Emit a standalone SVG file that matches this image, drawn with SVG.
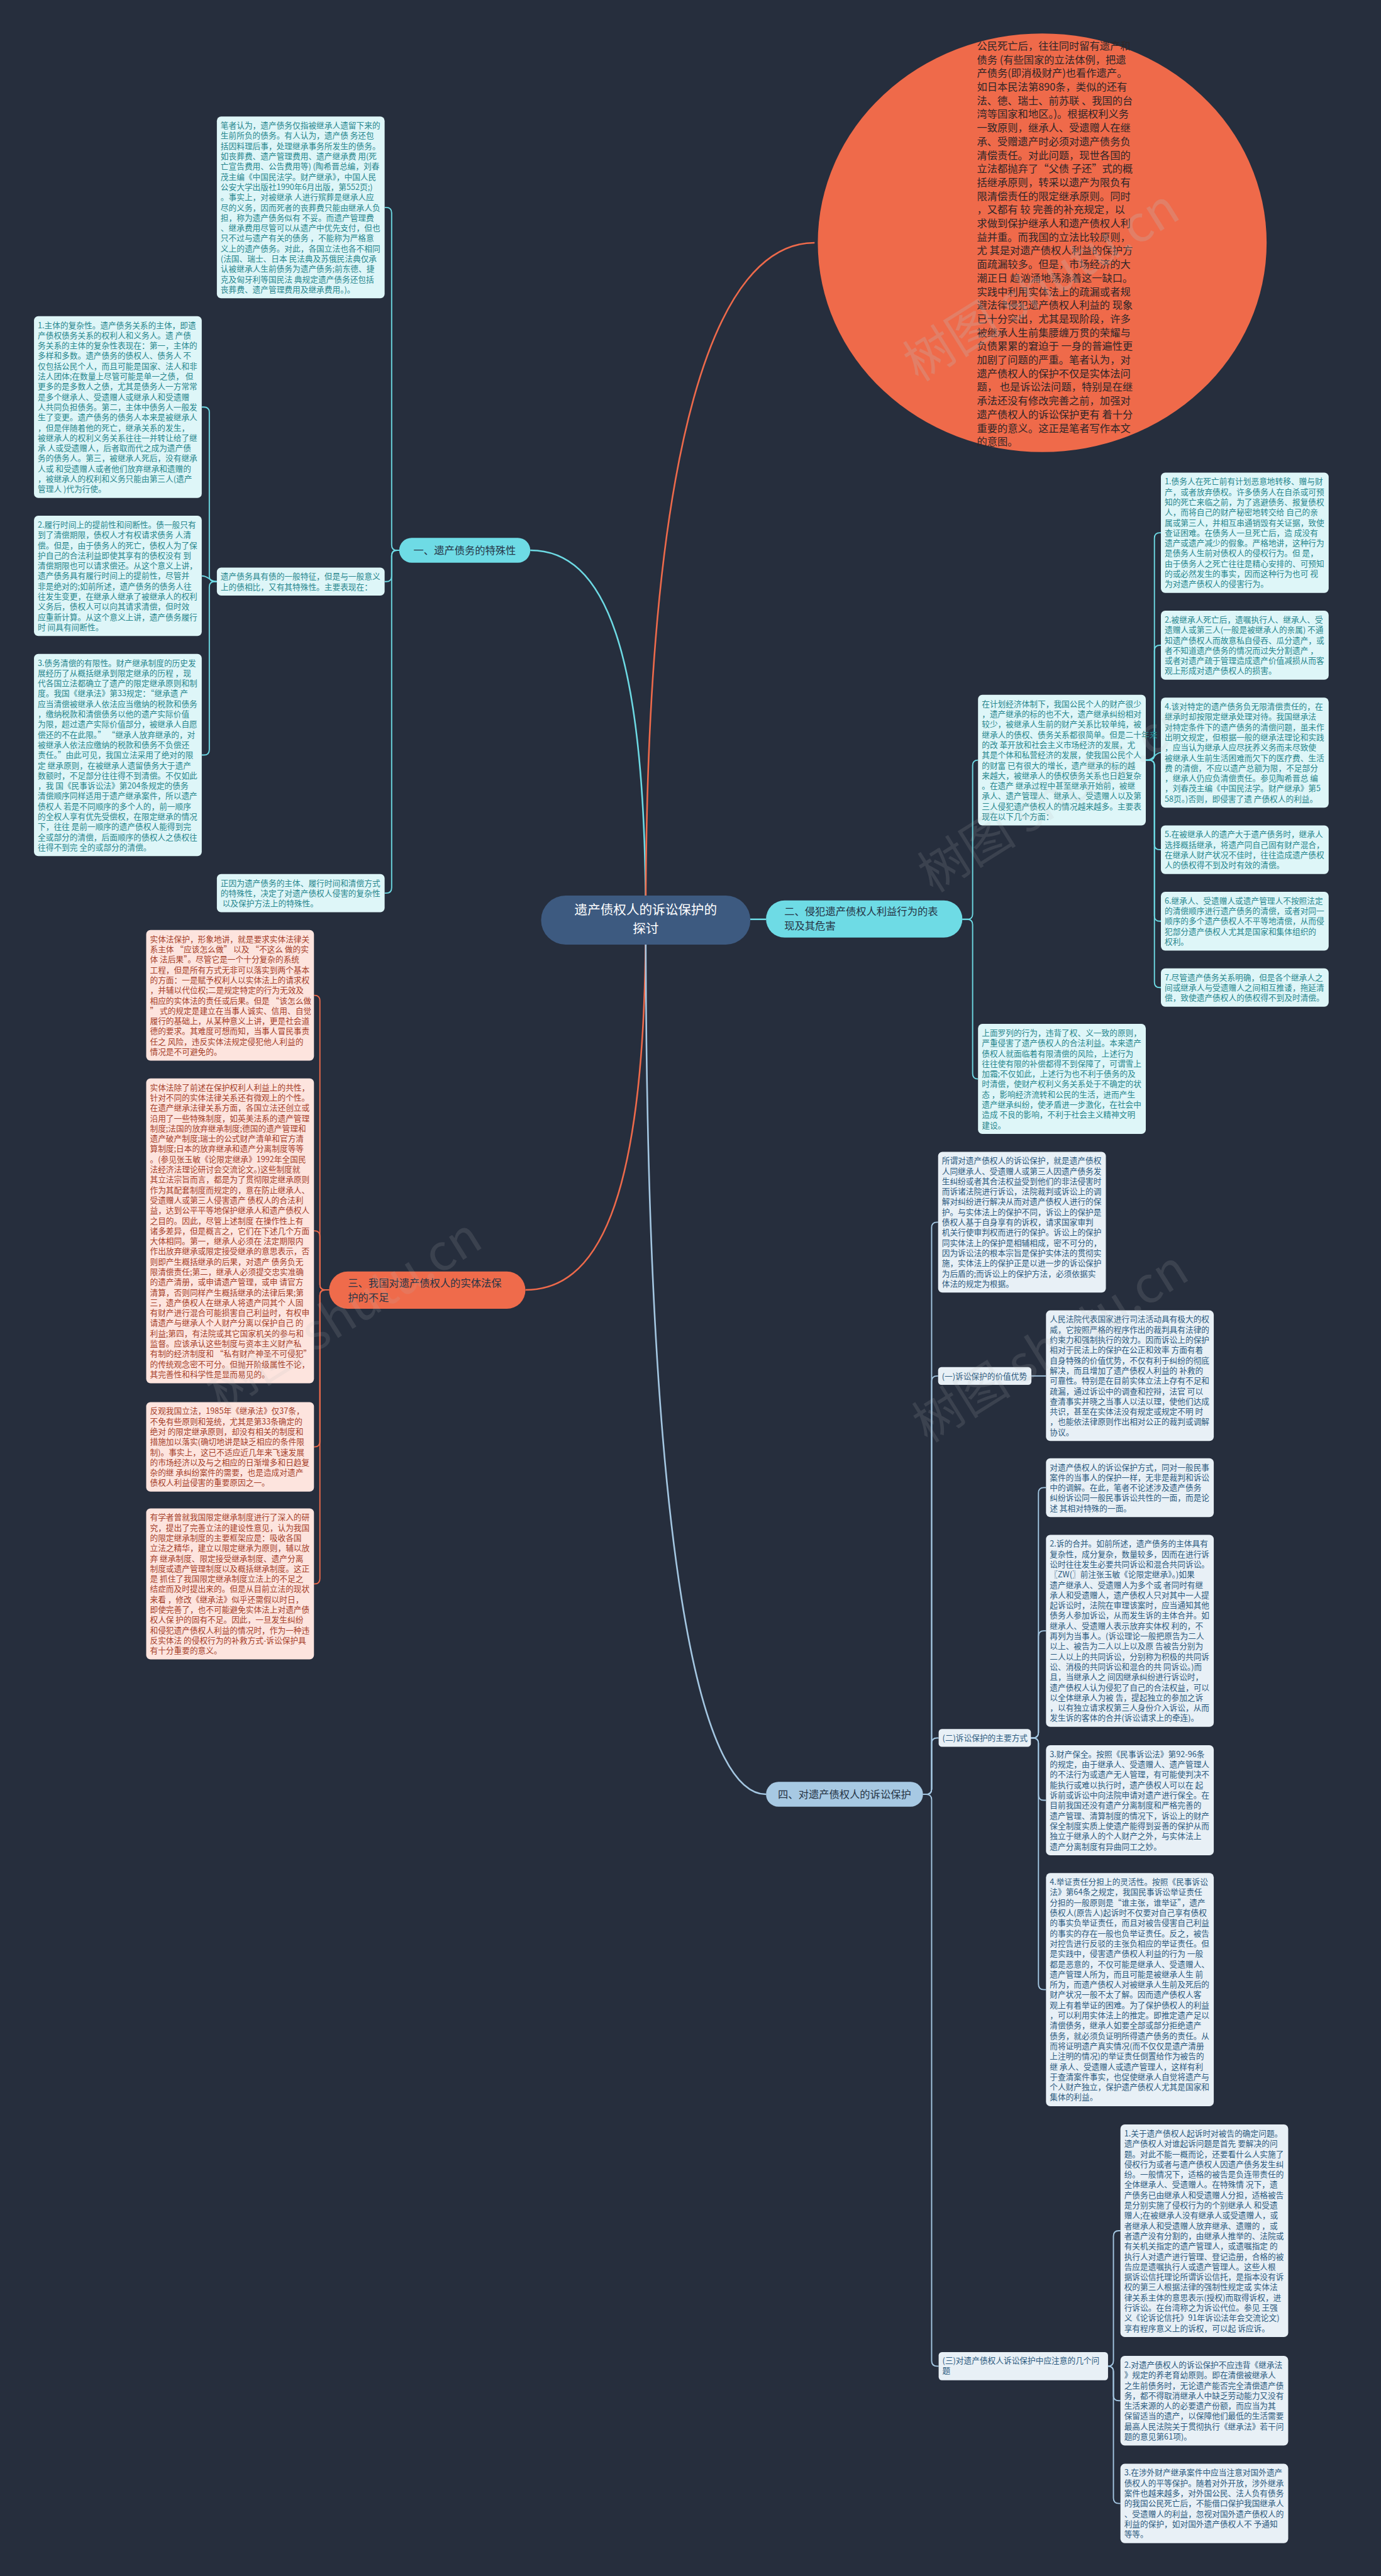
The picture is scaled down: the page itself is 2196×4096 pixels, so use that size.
<svg xmlns="http://www.w3.org/2000/svg" width="2196" height="4096" viewBox="0 0 2196 4096">
<style>
text{font-family:"Noto Sans CJK SC","Noto Sans",sans-serif}
.bx{font-size:14.8px}
.cy rect{fill:#def6f8}.cy text{fill:#28878e}
.or rect{fill:#fde4de}.or text{fill:#a63f2a}
.bl rect{fill:#e8f0f6}.bl text{fill:#2c5b80}
.lc{fill:none;stroke:#6ddae4;stroke-width:2.2}
.lo{fill:none;stroke:#ee6a4b;stroke-width:2.2}
.lb{fill:none;stroke:#a4c7e2;stroke-width:2.2}
.wm{font-size:92px;fill:#bcbcbc;opacity:0.14}
.mn{font-size:19px;fill:#263445}
</style>
<rect x="0" y="0" width="2196" height="4096" fill="#262e3d"/>
<g transform="scale(0.85781)">
<g id="connectors">
<path class="lc" style="stroke-width:3" d="M1197 1705 C1197 1200,1120 1020,983 1020"/>
<path class="lo" style="stroke-width:3" d="M1197 1705 C1197 800,1330 450,1510 450"/>
<path class="lc" style="stroke-width:3" d="M1197 1704 H1420"/>
<path class="lo" style="stroke-width:3" d="M1197 1705 C1197 2250,1100 2391,974 2391"/>
<path class="lb" style="stroke-width:3" d="M1197 1705 C1197 2900,1300 3326,1420 3326"/>
<path class="lc" d="M740 1020 H736 Q726 1020 726 1010 V394.5 Q726 384.5 716 384.5 H713"/>
<path class="lc" d="M740 1020 H736 Q726 1020 726 1030 V1068 Q726 1078 716 1078 H713"/>
<path class="lc" d="M740 1020 H736 Q726 1020 726 1030 V1645.5 Q726 1655.5 716 1655.5 H713"/>
<path class="lc" d="M402 1078 H398 Q388 1078 388 1068 V764.5 Q388 754.5 378 754.5 H374"/>
<path class="lc" d="M402 1078 C388 1078,388 1067.5,374 1067.5"/>
<path class="lc" d="M402 1078 H398 Q388 1078 388 1088 V1389.5 Q388 1399.5 378 1399.5 H374"/>
<path class="lc" d="M1784 1704 H1793 Q1803 1704 1803 1694 V1419 Q1803 1409 1813 1409"/>
<path class="lc" d="M1784 1704 H1793 Q1803 1704 1803 1714 V1990 Q1803 2000 1813 2000"/>
<path class="lc" d="M2124 1409 H2130 Q2140 1409 2140 1399 V997.5 Q2140 987.5 2150 987.5 H2152"/>
<path class="lc" d="M2124 1409 H2130 Q2140 1409 2140 1399 V1206 Q2140 1196 2150 1196 H2152"/>
<path class="lc" d="M2124 1409 C2140 1409,2140 1395,2152 1395"/>
<path class="lc" d="M2124 1409 H2130 Q2140 1409 2140 1419 V1565 Q2140 1575 2150 1575 H2152"/>
<path class="lc" d="M2124 1409 H2130 Q2140 1409 2140 1419 V1697.5 Q2140 1707.5 2150 1707.5 H2152"/>
<path class="lc" d="M2124 1409 H2130 Q2140 1409 2140 1419 V1820.5 Q2140 1830.5 2150 1830.5 H2152"/>
<path class="lo" d="M610 2391 H603 Q593 2391 593 2381 V1855 Q593 1845 583 1845 H582"/>
<path class="lo" d="M610 2391 H603 Q593 2391 593 2381 V2291.5 Q593 2281.5 583 2281.5 H582"/>
<path class="lo" d="M610 2391 H603 Q593 2391 593 2401 V2672 Q593 2682 583 2682 H582"/>
<path class="lo" d="M610 2391 H603 Q593 2391 593 2401 V2926 Q593 2936 583 2936 H582"/>
<path class="lb" d="M1711 3326 H1717 Q1727 3326 1727 3316 V2275.5 Q1727 2265.5 1737 2265.5 H1739"/>
<path class="lb" d="M1711 3326 H1717 Q1727 3326 1727 3316 V2560.5 Q1727 2550.5 1737 2550.5 H1739"/>
<path class="lb" d="M1711 3326 H1717 Q1727 3326 1727 3316 V3231.5 Q1727 3221.5 1737 3221.5 H1740"/>
<path class="lb" d="M1711 3326 H1717 Q1727 3326 1727 3336 V4376 Q1727 4386 1737 4386 H1740"/>
<path class="lb" d="M1912 2550.5 H1939"/>
<path class="lb" d="M1911 3221.5 H1915 Q1925 3221.5 1925 3211.5 V2767.5 Q1925 2757.5 1935 2757.5 H1939"/>
<path class="lb" d="M1911 3221.5 H1915 Q1925 3221.5 1925 3211.5 V3033 Q1925 3023 1935 3023 H1939"/>
<path class="lb" d="M1911 3221.5 H1915 Q1925 3221.5 1925 3231.5 V3327 Q1925 3337 1935 3337 H1939"/>
<path class="lb" d="M1911 3221.5 H1915 Q1925 3221.5 1925 3231.5 V3678 Q1925 3688 1935 3688 H1939"/>
<path class="lb" d="M2054 4386 Q2064 4386 2064 4376 V4145 Q2064 4135 2074 4135 H2077"/>
<path class="lb" d="M2054 4386 Q2064 4386 2064 4396 V4440 Q2064 4450 2074 4450 H2077"/>
<path class="lb" d="M2054 4386 Q2064 4386 2064 4396 V4630.5 Q2064 4640.5 2074 4640.5 H2077"/>
</g>

<g id="intro-circle">
<ellipse cx="1932" cy="450" rx="416" ry="388" fill="#ef6a4a"/>
<text x="1811" y="92" style="font-size:19px;fill:#2e2628">
<tspan x="1811" dy="0">公民死亡后，往往同时留有遗产和</tspan>
<tspan x="1811" dy="25.3">债务 (有些国家的立法体例，把遗</tspan>
<tspan x="1811" dy="25.3">产债务(即消极财产)也看作遗产。</tspan>
<tspan x="1811" dy="25.3">如日本民法第890条，类似的还有</tspan>
<tspan x="1811" dy="25.3">法、德、瑞士、前苏联 、我国的台</tspan>
<tspan x="1811" dy="25.3">湾等国家和地区。)。根据权利义务</tspan>
<tspan x="1811" dy="25.3">一致原则，继承人、受遗赠人在继</tspan>
<tspan x="1811" dy="25.3">承、受赠遗产时必须对遗产债务负</tspan>
<tspan x="1811" dy="25.3">清偿责任。对此问题，现世各国的</tspan>
<tspan x="1811" dy="25.3">立法都抛弃了“父债 子还”式的概</tspan>
<tspan x="1811" dy="25.3">括继承原则，转采以遗产为限负有</tspan>
<tspan x="1811" dy="25.3">限清偿责任的限定继承原则。同时</tspan>
<tspan x="1811" dy="25.3">，又都有 较 完善的补充规定，以</tspan>
<tspan x="1811" dy="25.3">求做到保护继承人和遗产债权人利</tspan>
<tspan x="1811" dy="25.3">益并重。而我国的立法比较原则，</tspan>
<tspan x="1811" dy="25.3">尤 其是对遗产债权人利益的保护方</tspan>
<tspan x="1811" dy="25.3">面疏漏较多。但是，市场经济的大</tspan>
<tspan x="1811" dy="25.3">潮正日 趋汹涌地荡涤着这一缺口。</tspan>
<tspan x="1811" dy="25.3">实践中利用实体法上的疏漏或者规</tspan>
<tspan x="1811" dy="25.3">避法律侵犯遗产债权人利益的 现象</tspan>
<tspan x="1811" dy="25.3">已十分突出，尤其是现阶段，许多</tspan>
<tspan x="1811" dy="25.3">被继承人生前集腰缠万贯的荣耀与</tspan>
<tspan x="1811" dy="25.3">负债累累的窘迫于 一身的普遍性更</tspan>
<tspan x="1811" dy="25.3">加剧了问题的严重。笔者认为，对</tspan>
<tspan x="1811" dy="25.3">遗产债权人的保护不仅是实体法问</tspan>
<tspan x="1811" dy="25.3">题， 也是诉讼法问题，特别是在继</tspan>
<tspan x="1811" dy="25.3">承法还没有修改完善之前，加强对</tspan>
<tspan x="1811" dy="25.3">遗产债权人的诉讼保护更有 着十分</tspan>
<tspan x="1811" dy="25.3">重要的意义。这正是笔者写作本文</tspan>
<tspan x="1811" dy="25.3">的意图。</tspan>
</text>
</g>

<g id="central">
<rect x="1003" y="1660" width="388" height="91" rx="45.5" fill="#3d5a80"/>
<text x="1197" y="1695" text-anchor="middle" style="font-size:24px;fill:#ffffff"><tspan x="1197" dy="0">遗产债权人的诉讼保护的</tspan><tspan x="1197" dy="35">探讨</tspan></text>
</g>

<g id="n1">
<rect x="740" y="997" width="243" height="46" rx="23" fill="#6edbe5"/>
<text class="mn" x="861.5" y="1027" text-anchor="middle">一、遗产债务的特殊性</text>
</g>
<g id="n2">
<rect x="1420" y="1669" width="364" height="69" rx="34.5" fill="#6edbe5"/>
<text class="mn" x="1454" y="1696"><tspan x="1454" dy="0">二、侵犯遗产债权人利益行为的表</tspan><tspan x="1454" dy="27">现及其危害</tspan></text>
</g>
<g id="n3">
<rect x="610" y="2357" width="364" height="69" rx="34.5" fill="#ef6b4b"/>
<text class="mn" x="645" y="2385"><tspan x="645" dy="0">三、我国对遗产债权人的实体法保</tspan><tspan x="645" dy="27">护的不足</tspan></text>
</g>
<g id="n4">
<rect x="1420" y="3303" width="291" height="46" rx="23" fill="#a7c9e3"/>
<text class="mn" x="1565.5" y="3333" text-anchor="middle">四、对遗产债权人的诉讼保护</text>
</g>

<g id="n1-def" class="cy bx">
<rect x="402" y="216" width="311" height="337" rx="8"/>
<text x="409" y="238">
<tspan x="409" dy="0">笔者认为，遗产债务仅指被继承人遗留下来的</tspan>
<tspan x="409" dy="19">生前所负的债务。有人认为，遗产债 务还包</tspan>
<tspan x="409" dy="19">括因料理后事，处理继承事务所发生的债务。</tspan>
<tspan x="409" dy="19">如丧葬费、遗产管理费用、遗产继承费 用(死</tspan>
<tspan x="409" dy="19">亡宣告费用、公告费用等) (陶希晋总编，刘春</tspan>
<tspan x="409" dy="19">茂主编《中国民法学。财产继承》，中国人民</tspan>
<tspan x="409" dy="19">公安大学出版社1990年6月出版，第552页;)</tspan>
<tspan x="409" dy="19">。事实上，对被继承 人进行殡葬是继承人应</tspan>
<tspan x="409" dy="19">尽的义务，因而死者的丧葬费只能由继承人负</tspan>
<tspan x="409" dy="19">担，称为遗产债务似有 不妥。而遗产管理费</tspan>
<tspan x="409" dy="19">、继承费用尽管可以从遗产中优先支付，但也</tspan>
<tspan x="409" dy="19">只不过与遗产有关的债务 ，不能称为严格意</tspan>
<tspan x="409" dy="19">义上的遗产债务。对此，各国立法也各不相同</tspan>
<tspan x="409" dy="19"> (法国、瑞士、日本 民法典及苏俄民法典仅承</tspan>
<tspan x="409" dy="19">认被继承人生前债务为遗产债务;前东德、捷</tspan>
<tspan x="409" dy="19">克及匈牙利等国民法 典规定遗产债务还包括</tspan>
<tspan x="409" dy="19">丧葬费、遗产管理费用及继承费用。)。</tspan>
</text>
</g>

<g id="n1-feat" class="cy bx">
<rect x="402" y="1052" width="311" height="52" rx="8"/>
<text x="409" y="1074"><tspan x="409" dy="0">遗产债务具有债的一般特征，但是与一般意义</tspan><tspan x="409" dy="19">上的债相比，又有其特殊性。主要表现在：</tspan></text>
</g>

<g id="n1-sum" class="cy bx">
<rect x="402" y="1620" width="311" height="71" rx="8"/>
<text x="409" y="1642"><tspan x="409" dy="0">正因为遗产债务的主体、履行时间和清偿方式</tspan><tspan x="409" dy="19">的特殊性，决定了对遗产债权人侵害的复杂性</tspan><tspan x="409" dy="19"> 以及保护方法上的特殊性。</tspan></text>
</g>

<g id="n1-f1" class="cy bx">
<rect x="63" y="586" width="311" height="337" rx="8"/>
<text x="70" y="608">
<tspan x="70" dy="0">1.主体的复杂性。遗产债务关系的主体，即遗</tspan>
<tspan x="70" dy="19">产债权债务关系的权利人和义务人。遗 产债</tspan>
<tspan x="70" dy="19">务关系的主体的复杂性表现在：第一，主体的</tspan>
<tspan x="70" dy="19">多样和多数。遗产债务的债权人、债务人 不</tspan>
<tspan x="70" dy="19">仅包括公民个人，而且可能是国家、法人和非</tspan>
<tspan x="70" dy="19">法人团体;在数量上尽管可能是单一之债， 但</tspan>
<tspan x="70" dy="19">更多的是多数人之债，尤其是债务人一方常常</tspan>
<tspan x="70" dy="19">是多个继承人、受遗赠人或继承人和受遗赠</tspan>
<tspan x="70" dy="19">人共同负担债务。第二，主体中债务人一般发</tspan>
<tspan x="70" dy="19">生了变更。遗产债务的债务人本来是被继承人</tspan>
<tspan x="70" dy="19">，但是伴随着他的死亡，继承关系的发生，</tspan>
<tspan x="70" dy="19">被继承人的权利义务关系往往一并转让给了继</tspan>
<tspan x="70" dy="19">承 人或受遗赠人，后者取而代之成为遗产债</tspan>
<tspan x="70" dy="19">务的债务人。第三，被继承人死后，没有继承</tspan>
<tspan x="70" dy="19">人或 和受遗赠人或者他们放弃继承和遗赠的</tspan>
<tspan x="70" dy="19">，被继承人的权利和义务只能由第三人(遗产</tspan>
<tspan x="70" dy="19">管理人 )代为行使。</tspan>
</text>
</g>

<g id="n1-f2" class="cy bx">
<rect x="63" y="956" width="311" height="223" rx="8"/>
<text x="70" y="978">
<tspan x="70" dy="0">2.履行时间上的提前性和间断性。债一般只有</tspan>
<tspan x="70" dy="19">到了清偿期限，债权人才有权请求债务 人清</tspan>
<tspan x="70" dy="19">偿。但是，由于债务人的死亡，债权人为了保</tspan>
<tspan x="70" dy="19">护自己的合法利益即使其享有的债权没有 到</tspan>
<tspan x="70" dy="19">清偿期限也可以请求偿还。从这个意义上讲，</tspan>
<tspan x="70" dy="19">遗产债务具有履行时间上的提前性，尽管并</tspan>
<tspan x="70" dy="19">非是绝对的;如前所述，遗产债务的债务人往</tspan>
<tspan x="70" dy="19">往发生变更，在继承人继承了被继承人的权利</tspan>
<tspan x="70" dy="19"> 义务后，债权人可以向其请求清偿，但时效</tspan>
<tspan x="70" dy="19">应重新计算。从这个意义上讲，遗产债务履行</tspan>
<tspan x="70" dy="19">时 间具有间断性。</tspan>
</text>
</g>

<g id="n1-f3" class="cy bx">
<rect x="63" y="1212" width="311" height="375" rx="8"/>
<text x="70" y="1234">
<tspan x="70" dy="0">3.债务清偿的有限性。财产继承制度的历史发</tspan>
<tspan x="70" dy="19">展经历了从概括继承到限定继承的历程 ，现</tspan>
<tspan x="70" dy="19">代各国立法都确立了遗产的限定继承原则和制</tspan>
<tspan x="70" dy="19">度。我国《继承法》第33规定：“继承遗 产</tspan>
<tspan x="70" dy="19">应当清偿被继承人依法应当缴纳的税款和债务</tspan>
<tspan x="70" dy="19">，缴纳税款和清偿债务以他的遗产实际价值</tspan>
<tspan x="70" dy="19">为限，超过遗产实际价值部分，被继承人自愿</tspan>
<tspan x="70" dy="19">偿还的不在此限。” “继承人放弃继承的，对</tspan>
<tspan x="70" dy="19"> 被继承人依法应缴纳的税款和债务不负偿还</tspan>
<tspan x="70" dy="19">责任。”由此可见，我国立法采用了绝对的限</tspan>
<tspan x="70" dy="19">定 继承原则，在被继承人遗留债务大于遗产</tspan>
<tspan x="70" dy="19">数额时，不足部分往往得不到清偿。不仅如此</tspan>
<tspan x="70" dy="19">，我 国《民事诉讼法》第204条规定的债务</tspan>
<tspan x="70" dy="19">清偿顺序同样适用于遗产继承案件，所以遗产</tspan>
<tspan x="70" dy="19">债权人 若是不同顺序的多个人的，前一顺序</tspan>
<tspan x="70" dy="19">的全权人享有优先受偿权，在限定继承的情况</tspan>
<tspan x="70" dy="19">下，往往 是前一顺序的遗产债权人能得到完</tspan>
<tspan x="70" dy="19">全或部分的清偿，后面顺序的债权人之债权往</tspan>
<tspan x="70" dy="19">往得不到完 全的或部分的清偿。</tspan>
</text>
</g>

<g id="n2-intro" class="cy bx">
<rect x="1813" y="1288" width="311" height="242" rx="8"/>
<text x="1820" y="1310">
<tspan x="1820" dy="0">在计划经济体制下，我国公民个人的财产很少</tspan>
<tspan x="1820" dy="19">，遗产继承的标的也不大，遗产继承纠纷相对</tspan>
<tspan x="1820" dy="19">较少，被继承人生前的财产关系比较单纯，被</tspan>
<tspan x="1820" dy="19">继承人的债权、债务关系都很简单。但是二十年来</tspan>
<tspan x="1820" dy="19">的改 革开放和社会主义市场经济的发展，尤</tspan>
<tspan x="1820" dy="19">其是个体和私营经济的发展，使我国公民个人</tspan>
<tspan x="1820" dy="19">的财富 已有很大的增长，遗产继承的标的越</tspan>
<tspan x="1820" dy="19">来越大，被继承人的债权债务关系也日趋复杂</tspan>
<tspan x="1820" dy="19">。在遗产 继承过程中甚至继承开始前，被继</tspan>
<tspan x="1820" dy="19">承人、遗产管理人、继承人、受遗赠人以及第</tspan>
<tspan x="1820" dy="19">三人侵犯遗产债权人的情况越来越多。主要表</tspan>
<tspan x="1820" dy="19">现在以下几个方面：</tspan>
</text>
</g>

<g id="n2-harm" class="cy bx">
<rect x="1813" y="1898" width="311" height="204" rx="8"/>
<text x="1820" y="1920">
<tspan x="1820" dy="0">上面罗列的行为，违背了权、义一致的原则，</tspan>
<tspan x="1820" dy="19">严重侵害了遗产债权人的合法利益。本来遗产</tspan>
<tspan x="1820" dy="19"> 债权人就面临着有限清偿的风险，上述行为</tspan>
<tspan x="1820" dy="19">往往使有限的补偿都得不到保障了，可谓雪上</tspan>
<tspan x="1820" dy="19">加霜;不仅如此，上述行为也不利于债务的及</tspan>
<tspan x="1820" dy="19">时清偿，使财产权利义务关系处于不确定的状</tspan>
<tspan x="1820" dy="19">态 ，影响经济流转和公民的生活，进而产生</tspan>
<tspan x="1820" dy="19">遗产继承纠纷，使矛盾进一步激化，在社会中</tspan>
<tspan x="1820" dy="19">造成 不良的影响，不利于社会主义精神文明</tspan>
<tspan x="1820" dy="19">建设。</tspan>
</text>
</g>

<g id="n2-i1" class="cy bx">
<rect x="2152" y="876" width="311" height="223" rx="8"/>
<text x="2159" y="898">
<tspan x="2159" dy="0">1.债务人在死亡前有计划恶意地转移、赠与财</tspan>
<tspan x="2159" dy="19">产，或者放弃债权。许多债务人在自杀或可预</tspan>
<tspan x="2159" dy="19">知的死亡来临之前，为了逃避债务、报复债权</tspan>
<tspan x="2159" dy="19">人，而将自己的财产秘密地转交给 自己的亲</tspan>
<tspan x="2159" dy="19">属或第三人，并相互串通销毁有关证据，致使</tspan>
<tspan x="2159" dy="19">查证困难。在债务人一旦死亡后，造 成没有</tspan>
<tspan x="2159" dy="19">遗产或遗产减少的假象。严格地讲，这种行为</tspan>
<tspan x="2159" dy="19">是债务人生前对债权人的侵权行为。但 是，</tspan>
<tspan x="2159" dy="19">由于债务人之死亡往往是精心安排的、可预知</tspan>
<tspan x="2159" dy="19">的或必然发生的事实，因而这种行为也可 视</tspan>
<tspan x="2159" dy="19">为对遗产债权人的侵害行为。</tspan>
</text>
</g>

<g id="n2-i2" class="cy bx">
<rect x="2152" y="1132" width="311" height="128" rx="8"/>
<text x="2159" y="1154">
<tspan x="2159" dy="0">2.被继承人死亡后，遗嘱执行人、继承人、受</tspan>
<tspan x="2159" dy="19">遗赠人或第三人(一般是被继承人的亲属) 不通</tspan>
<tspan x="2159" dy="19">知遗产债权人而故意私自侵吞、瓜分遗产，或</tspan>
<tspan x="2159" dy="19">者不知道遗产债务的情况而过失分割遗产 ，</tspan>
<tspan x="2159" dy="19">或者对遗产疏于管理造成遗产价值减损从而客</tspan>
<tspan x="2159" dy="19">观上形成对遗产债权人的损害。</tspan>
</text>
</g>

<g id="n2-i4" class="cy bx">
<rect x="2152" y="1293" width="311" height="204" rx="8"/>
<text x="2159" y="1315">
<tspan x="2159" dy="0">4.该对特定的遗产债务负无限清偿责任的，在</tspan>
<tspan x="2159" dy="19">继承时却按限定继承处理对待。我国继承法</tspan>
<tspan x="2159" dy="19">对特定条件下的遗产债务的清偿问题，虽未作</tspan>
<tspan x="2159" dy="19">出明文规定，但根据一般的继承法理论和实践</tspan>
<tspan x="2159" dy="19">，应当认为继承人应尽抚养义务而未尽致使</tspan>
<tspan x="2159" dy="19">被继承人生前生活困难而欠下的医疗费、生活</tspan>
<tspan x="2159" dy="19">费 的清偿，不应以遗产总额为限，不足部分</tspan>
<tspan x="2159" dy="19">，继承人仍应负清偿责任。参见陶希晋总 编</tspan>
<tspan x="2159" dy="19">，刘春茂主编《中国民法学。财产继承》第5</tspan>
<tspan x="2159" dy="19">58页。)否则，即侵害了遗 产债权人的利益。</tspan>
</text>
</g>

<g id="n2-i5" class="cy bx">
<rect x="2152" y="1530" width="311" height="90" rx="8"/>
<text x="2159" y="1552">
<tspan x="2159" dy="0">5.在被继承人的遗产大于遗产债务时，继承人</tspan>
<tspan x="2159" dy="19">选择概括继承，将遗产同自己固有财产混合，</tspan>
<tspan x="2159" dy="19">在继承人财产状况不佳时，往往造成遗产债权</tspan>
<tspan x="2159" dy="19">人的债权得不到及时有效的清偿。</tspan>
</text>
</g>

<g id="n2-i6" class="cy bx">
<rect x="2152" y="1653" width="311" height="109" rx="8"/>
<text x="2159" y="1675">
<tspan x="2159" dy="0">6.继承人、受遗赠人或遗产管理人不按照法定</tspan>
<tspan x="2159" dy="19">的清偿顺序进行遗产债务的清偿，或者对同一</tspan>
<tspan x="2159" dy="19">顺序的多个遗产债权人不平等地清偿，从而侵</tspan>
<tspan x="2159" dy="19">犯部分遗产债权人尤其是国家和集体组织的</tspan>
<tspan x="2159" dy="19">权利。</tspan>
</text>
</g>

<g id="n2-i7" class="cy bx">
<rect x="2152" y="1795" width="311" height="71" rx="8"/>
<text x="2159" y="1817">
<tspan x="2159" dy="0">7.尽管遗产债务关系明确，但是各个继承人之</tspan>
<tspan x="2159" dy="19">间或继承人与受遗赠人之间相互推诿，拖延清</tspan>
<tspan x="2159" dy="19">偿，致使遗产债权人的债权得不到及时清偿。</tspan>
</text>
</g>

<g id="n3-a" class="or bx">
<rect x="271" y="1724" width="311" height="242" rx="8"/>
<text x="278" y="1746">
<tspan x="278" dy="0">实体法保护，形象地讲，就是要求实体法律关</tspan>
<tspan x="278" dy="19">系主体 “应该怎么做” 以及 “不这么 做的实</tspan>
<tspan x="278" dy="19">体 法后果”。尽管它是一个十分复杂的系统</tspan>
<tspan x="278" dy="19">工程，但是所有方式无非可以落实到两个基本</tspan>
<tspan x="278" dy="19">的方面：一是赋予权利人以实体法上的请求权</tspan>
<tspan x="278" dy="19">，并辅以代位权;二是规定特定的行为无效及</tspan>
<tspan x="278" dy="19">相应的实体法的责任或后果。但是 “该怎么做</tspan>
<tspan x="278" dy="19">” 式的规定是建立在当事人诚实、信用、自觉</tspan>
<tspan x="278" dy="19">履行的基础上，从某种意义上讲，更是社会道</tspan>
<tspan x="278" dy="19">德的要求。其难度可想而知，当事人冒民事责</tspan>
<tspan x="278" dy="19">任之 风险，违反实体法规定侵犯他人利益的</tspan>
<tspan x="278" dy="19">情况是不可避免的。</tspan>
</text>
</g>

<g id="n3-b" class="or bx">
<rect x="271" y="1999" width="311" height="565" rx="8"/>
<text x="278" y="2021">
<tspan x="278" dy="0">实体法除了前述在保护权利人利益上的共性，</tspan>
<tspan x="278" dy="19">针对不同的实体法律关系还有微观上的个性。</tspan>
<tspan x="278" dy="19">在遗产继承法律关系方面，各国立法还创立或</tspan>
<tspan x="278" dy="19">沿用了一些特殊制度，如英美法系的遗产管理</tspan>
<tspan x="278" dy="19">制度;法国的放弃继承制度;德国的遗产管理和</tspan>
<tspan x="278" dy="19">遗产破产制度;瑞士的公式财产清单和官方清</tspan>
<tspan x="278" dy="19">算制度;日本的放弃继承和遗产分离制度等等</tspan>
<tspan x="278" dy="19">。(参见张玉敏《论限定继承》1992年全国民</tspan>
<tspan x="278" dy="19">法经济法理论研讨会交流论文。)这些制度就</tspan>
<tspan x="278" dy="19">其立法宗旨而言，都是为了贯彻限定继承原则</tspan>
<tspan x="278" dy="19">作为其配套制度而规定的，意在防止继承人、</tspan>
<tspan x="278" dy="19">受遗赠人或第三人侵害遗产 债权人的合法利</tspan>
<tspan x="278" dy="19">益，达到公平平等地保护继承人和遗产债权人</tspan>
<tspan x="278" dy="19">之目的。因此，尽管上述制度 在操作性上有</tspan>
<tspan x="278" dy="19">诸多差异，但是概言之，它们在下述几个方面</tspan>
<tspan x="278" dy="19">大体相同。第一，继承人必须在 法定期限内</tspan>
<tspan x="278" dy="19">作出放弃继承或限定接受继承的意思表示，否</tspan>
<tspan x="278" dy="19">则即产生概括继承的后果，对遗产 债务负无</tspan>
<tspan x="278" dy="19">限清偿责任;第二，继承人必须提交忠实准确</tspan>
<tspan x="278" dy="19">的遗产清册，或申请遗产管理，或申 请官方</tspan>
<tspan x="278" dy="19">清算，否则同样产生概括继承的法律后果;第</tspan>
<tspan x="278" dy="19">三，遗产债权人在继承人将遗产同其个 人固</tspan>
<tspan x="278" dy="19">有财产进行混合可能损害自己利益时，有权申</tspan>
<tspan x="278" dy="19">请遗产与继承人个人财产分离以保护自己 的</tspan>
<tspan x="278" dy="19">利益;第四，有法院或其它国家机关的参与和</tspan>
<tspan x="278" dy="19">监督。应该承认这些制度与资本主义财产私</tspan>
<tspan x="278" dy="19">有制的经济制度和 “私有财产神圣不可侵犯”</tspan>
<tspan x="278" dy="19">的传统观念密不可分。但抛开阶级属性不论，</tspan>
<tspan x="278" dy="19">其完善性和科学性是显而易见的。</tspan>
</text>
</g>

<g id="n3-c" class="or bx">
<rect x="271" y="2599" width="311" height="166" rx="8"/>
<text x="278" y="2621">
<tspan x="278" dy="0">反观我国立法，1985年《继承法》仅37条，</tspan>
<tspan x="278" dy="19">不免有些原则和笼统，尤其是第33条确定的</tspan>
<tspan x="278" dy="19">绝对 的限定继承原则，却没有相关的制度和</tspan>
<tspan x="278" dy="19">措施加以落实(确切地讲是缺乏相应的条件限</tspan>
<tspan x="278" dy="19">制)。事实上，这已不适应近几年来飞速发展</tspan>
<tspan x="278" dy="19">的市场经济以及与之相应的日渐增多和日趋复</tspan>
<tspan x="278" dy="19">杂的继 承纠纷案件的需要，也是造成对遗产</tspan>
<tspan x="278" dy="19">债权人利益侵害的重要原因之一。</tspan>
</text>
</g>

<g id="n3-d" class="or bx">
<rect x="271" y="2796" width="311" height="280" rx="8"/>
<text x="278" y="2818">
<tspan x="278" dy="0">有学者曾就我国限定继承制度进行了深入的研</tspan>
<tspan x="278" dy="19">究，提出了完善立法的建设性意见，认为我国</tspan>
<tspan x="278" dy="19"> 的限定继承制度的主要框架应是：吸收各国</tspan>
<tspan x="278" dy="19">立法之精华，建立以限定继承为原则，辅以放</tspan>
<tspan x="278" dy="19">弃 继承制度、限定接受继承制度、遗产分离</tspan>
<tspan x="278" dy="19">制度或遗产管理制度以及概括继承制度。这正</tspan>
<tspan x="278" dy="19">是 抓住了我国限定继承制度立法上的不足之</tspan>
<tspan x="278" dy="19">结症而及时提出来的。但是从目前立法的现状</tspan>
<tspan x="278" dy="19">来看 ，修改《继承法》似乎还需假以时日，</tspan>
<tspan x="278" dy="19">即使完善了，也不可能避免实体法上对遗产债</tspan>
<tspan x="278" dy="19">权人保 护的固有不足。因此，一旦发生纠纷</tspan>
<tspan x="278" dy="19">和侵犯遗产债权人利益的情况时，作为一种违</tspan>
<tspan x="278" dy="19">反实体法 的侵权行为的补救方式-诉讼保护具</tspan>
<tspan x="278" dy="19">有十分重要的意义。</tspan>
</text>
</g>

<g id="n4-def" class="bl bx">
<rect x="1739" y="2135" width="311" height="261" rx="8"/>
<text x="1746" y="2157">
<tspan x="1746" dy="0">所谓对遗产债权人的诉讼保护，就是遗产债权</tspan>
<tspan x="1746" dy="19">人同继承人、受遗赠人或第三人因遗产债务发</tspan>
<tspan x="1746" dy="19">生纠纷或者其合法权益受到他们的非法侵害时</tspan>
<tspan x="1746" dy="19">而诉诸法院进行诉讼，法院裁判或诉讼上的调</tspan>
<tspan x="1746" dy="19">解对纠纷进行解决从而对遗产债权人进行的保</tspan>
<tspan x="1746" dy="19">护。与实体法上的保护不同，诉讼上的保护是</tspan>
<tspan x="1746" dy="19"> 债权人基于自身享有的诉权，请求国家审判</tspan>
<tspan x="1746" dy="19">机关行使审判权而进行的保护。诉讼上的保护</tspan>
<tspan x="1746" dy="19">同实体法上的保护是相辅相成，密不可分的，</tspan>
<tspan x="1746" dy="19">因为诉讼法的根本宗旨是保护实体法的贯彻实</tspan>
<tspan x="1746" dy="19">施，实体法上的保护正是以进一步的诉讼保护</tspan>
<tspan x="1746" dy="19">为后盾的;而诉讼上的保护方法，必须依据实</tspan>
<tspan x="1746" dy="19">体法的规定为根据。</tspan>
</text>
</g>

<g id="n4-s1" class="bl bx">
<rect x="1739" y="2534" width="173" height="33" rx="6"/>
<text x="1746" y="2556">(一)诉讼保护的价值优势</text>
</g>
<g id="n4-s2" class="bl bx">
<rect x="1740" y="3205" width="171" height="33" rx="6"/>
<text x="1747" y="3227">(二)诉讼保护的主要方式</text>
</g>
<g id="n4-s3" class="bl bx">
<rect x="1740" y="4360" width="314" height="52" rx="6"/>
<text x="1747" y="4381"><tspan x="1747" dy="0">(三)对遗产债权人诉讼保护中应注意的几个问</tspan><tspan x="1747" dy="19">题</tspan></text>
</g>

<g id="n4-s1-a" class="bl bx">
<rect x="1939" y="2429" width="311" height="242" rx="8"/>
<text x="1946" y="2451">
<tspan x="1946" dy="0">人民法院代表国家进行司法活动具有极大的权</tspan>
<tspan x="1946" dy="19">威，它按照严格的程序作出的裁判具有法律的</tspan>
<tspan x="1946" dy="19">约束力和强制执行的效力。因而诉讼上的保护</tspan>
<tspan x="1946" dy="19">相对于民法上的保护在公正和效率 方面有着</tspan>
<tspan x="1946" dy="19">自身特殊的价值优势，不仅有利于纠纷的彻底</tspan>
<tspan x="1946" dy="19">解决，而且增加了遗产债权人利益的 补救的</tspan>
<tspan x="1946" dy="19">可靠性。特别是在目前实体立法上存有不足和</tspan>
<tspan x="1946" dy="19">疏漏，通过诉讼中的调查和控辩，法官 可以</tspan>
<tspan x="1946" dy="19">查清事实并晓之当事人以法以理，使他们达成</tspan>
<tspan x="1946" dy="19">共识，甚至在实体法没有规定或规定不明 时</tspan>
<tspan x="1946" dy="19">，也能依法律原则作出相对公正的裁判或调解</tspan>
<tspan x="1946" dy="19">协议。</tspan>
</text>
</g>

<g id="n4-s2-a" class="bl bx">
<rect x="1939" y="2703" width="311" height="109" rx="8"/>
<text x="1946" y="2725">
<tspan x="1946" dy="0">对遗产债权人的诉讼保护方式，同对一般民事</tspan>
<tspan x="1946" dy="19">案件的当事人的保护一样，无非是裁判和诉讼</tspan>
<tspan x="1946" dy="19"> 中的调解。在此，笔者不论述涉及遗产债务</tspan>
<tspan x="1946" dy="19">纠纷诉讼同一般民事诉讼共性的一面，而是论</tspan>
<tspan x="1946" dy="19">述 其相对特殊的一面。</tspan>
</text>
</g>

<g id="n4-s2-b" class="bl bx">
<rect x="1939" y="2845" width="311" height="356" rx="8"/>
<text x="1946" y="2867">
<tspan x="1946" dy="0">2.诉的合并。如前所述，遗产债务的主体具有</tspan>
<tspan x="1946" dy="19">复杂性，成分复杂，数量较多，因而在进行诉</tspan>
<tspan x="1946" dy="19">讼时往往发生必要共同诉讼和混合共同诉讼。</tspan>
<tspan x="1946" dy="19">〖ZW(〗前注张玉敏《论限定继承》。)如果</tspan>
<tspan x="1946" dy="19">遗产继承人、受遗赠人为多个或 者同时有继</tspan>
<tspan x="1946" dy="19">承人和受遗赠人，遗产债权人只对其中一人提</tspan>
<tspan x="1946" dy="19">起诉讼时，法院在审理该案时，应当通知其他</tspan>
<tspan x="1946" dy="19">债务人参加诉讼，从而发生诉的主体合并。如</tspan>
<tspan x="1946" dy="19">继承人、受遗赠人表示放弃实体权 利的，不</tspan>
<tspan x="1946" dy="19">再列为当事人。(诉讼理论一般把原告为二人</tspan>
<tspan x="1946" dy="19">以上、被告为二人以上以及原 告被告分别为</tspan>
<tspan x="1946" dy="19">二人以上的共同诉讼，分别称为积极的共同诉</tspan>
<tspan x="1946" dy="19">讼、消极的共同诉讼和混合的共 同诉讼。)而</tspan>
<tspan x="1946" dy="19">且，当继承人之 间因继承纠纷进行诉讼时，</tspan>
<tspan x="1946" dy="19">遗产债权人认为侵犯了自己的合法权益，可以</tspan>
<tspan x="1946" dy="19">以全体继承人为被 告，提起独立的参加之诉</tspan>
<tspan x="1946" dy="19">，以有独立请求权第三人身份介入诉讼，从而</tspan>
<tspan x="1946" dy="19">发生诉的客体的合并(诉讼请求上的牵连)。</tspan>
</text>
</g>

<g id="n4-s2-c" class="bl bx">
<rect x="1939" y="3235" width="311" height="204" rx="8"/>
<text x="1946" y="3257">
<tspan x="1946" dy="0">3.财产保全。按照《民事诉讼法》第92-96条</tspan>
<tspan x="1946" dy="19">的规定，由于继承人、受遗赠人、遗产管理人</tspan>
<tspan x="1946" dy="19">的不法行为或遗产无人管理，有可能使判决不</tspan>
<tspan x="1946" dy="19">能执行或难以执行时，遗产债权人可以在 起</tspan>
<tspan x="1946" dy="19">诉前或诉讼中向法院申请对遗产进行保全。在</tspan>
<tspan x="1946" dy="19">目前我国还没有遗产分离制度和严格完善的</tspan>
<tspan x="1946" dy="19">遗产管理、清算制度的情况下，诉讼上的财产</tspan>
<tspan x="1946" dy="19">保全制度实质上使遗产能得到妥善的保护从而</tspan>
<tspan x="1946" dy="19"> 独立于继承人的个人财产之外，与实体法上</tspan>
<tspan x="1946" dy="19">遗产分离制度有异曲同工之妙。</tspan>
</text>
</g>

<g id="n4-s2-d" class="bl bx">
<rect x="1939" y="3472" width="311" height="432" rx="8"/>
<text x="1946" y="3494">
<tspan x="1946" dy="0">4.举证责任分担上的灵活性。按照《民事诉讼</tspan>
<tspan x="1946" dy="19">法》第64条之规定，我国民事诉讼举证责任</tspan>
<tspan x="1946" dy="19">分担的一般原则是“谁主张，谁举证”，遗产</tspan>
<tspan x="1946" dy="19">债权人(原告人)起诉时不仅要对自己享有债权</tspan>
<tspan x="1946" dy="19">的事实负举证责任，而且对被告侵害自己利益</tspan>
<tspan x="1946" dy="19">的事实的存在一般也负举证责任。反之，被告</tspan>
<tspan x="1946" dy="19">对控告进行反驳的主张负相应的举证责任。但</tspan>
<tspan x="1946" dy="19">是实践中，侵害遗产债权人利益的行为 一般</tspan>
<tspan x="1946" dy="19">都是恶意的，不仅可能是继承人、受遗赠人、</tspan>
<tspan x="1946" dy="19">遗产管理人所为，而且可能是被继承人生 前</tspan>
<tspan x="1946" dy="19">所为，而遗产债权人对被继承人生前及死后的</tspan>
<tspan x="1946" dy="19">财产状况一般不太了解。因而遗产债权人客</tspan>
<tspan x="1946" dy="19">观上有着举证的困难。为了保护债权人的利益</tspan>
<tspan x="1946" dy="19">，可以利用实体法上的推定。即推定遗产足以</tspan>
<tspan x="1946" dy="19"> 清偿债务，继承人如要全部或部分拒绝遗产</tspan>
<tspan x="1946" dy="19">债务，就必须负证明所得遗产债务的责任。从</tspan>
<tspan x="1946" dy="19">而将证明遗产真实情况(而不仅仅是遗产清册</tspan>
<tspan x="1946" dy="19">上注明的情况)的举证责任倒置给作为被告的</tspan>
<tspan x="1946" dy="19">继 承人、受遗赠人或遗产管理人，这样有利</tspan>
<tspan x="1946" dy="19">于查清案件事实，也促使继承人自觉将遗产与</tspan>
<tspan x="1946" dy="19">个人财产独立，保护遗产债权人尤其是国家和</tspan>
<tspan x="1946" dy="19">集体的利益。</tspan>
</text>
</g>

<g id="n4-s3-a" class="bl bx">
<rect x="2077" y="3938" width="311" height="394" rx="8"/>
<text x="2084" y="3960">
<tspan x="2084" dy="0">1.关于遗产债权人起诉时对被告的确定问题。</tspan>
<tspan x="2084" dy="19">遗产债权人对谁起诉问题是首先 要解决的问</tspan>
<tspan x="2084" dy="19">题。对此不能一概而论，还要看什么人实施了</tspan>
<tspan x="2084" dy="19">侵权行为或者与遗产债权人因遗产债务发生纠</tspan>
<tspan x="2084" dy="19">纷。一般情况下，适格的被告是负连带责任的</tspan>
<tspan x="2084" dy="19">全体继承人、受遗赠人。在特殊情 况下，遗</tspan>
<tspan x="2084" dy="19">产债务已由继承人和受遗赠人分担，适格被告</tspan>
<tspan x="2084" dy="19">是分别实施了侵权行为的个别继承人 和受遗</tspan>
<tspan x="2084" dy="19">赠人;在被继承人没有继承人或受遗赠人，或</tspan>
<tspan x="2084" dy="19">者继承人和受遗赠人放弃继承、遗赠的 ，或</tspan>
<tspan x="2084" dy="19">者遗产没有分割的，由继承人推举的、法院或</tspan>
<tspan x="2084" dy="19">有关机关指定的遗产管理人，或遗嘱指定 的</tspan>
<tspan x="2084" dy="19">执行人对遗产进行管理、登记造册，合格的被</tspan>
<tspan x="2084" dy="19">告应是遗嘱执行人或遗产管理人。这些人根</tspan>
<tspan x="2084" dy="19">据诉讼信托理论所谓诉讼信托，是指本没有诉</tspan>
<tspan x="2084" dy="19">权的第三人根据法律的强制性规定或 实体法</tspan>
<tspan x="2084" dy="19">律关系主体的意思表示(授权)而取得诉权，进</tspan>
<tspan x="2084" dy="19">行诉讼。在台湾称之为诉讼代位。参见 王强</tspan>
<tspan x="2084" dy="19">义《论诉论信托》91年诉讼法年会交流论文)</tspan>
<tspan x="2084" dy="19">享有程序意义上的诉权，可以起 诉应诉。</tspan>
</text>
</g>

<g id="n4-s3-b" class="bl bx">
<rect x="2077" y="4367" width="311" height="166" rx="8"/>
<text x="2084" y="4389">
<tspan x="2084" dy="0">2.对遗产债权人的诉讼保护不应违背《继承法</tspan>
<tspan x="2084" dy="19">》规定的养老育幼原则。即在清偿被继承人</tspan>
<tspan x="2084" dy="19">之生前债务时，无论遗产能否完全清偿遗产债</tspan>
<tspan x="2084" dy="19">务，都不得取消继承人中缺乏劳动能力又没有</tspan>
<tspan x="2084" dy="19"> 生活来源的人的必要遗产份额，而应当为其</tspan>
<tspan x="2084" dy="19">保留适当的遗产，以保障他们最低的生活需要</tspan>
<tspan x="2084" dy="19">最高人民法院关于贯彻执行《继承法》若干问</tspan>
<tspan x="2084" dy="19">题的意见第61项)。</tspan>
</text>
</g>

<g id="n4-s3-c" class="bl bx">
<rect x="2077" y="4567" width="311" height="147" rx="8"/>
<text x="2084" y="4589">
<tspan x="2084" dy="0">3.在涉外财产继承案件中应当注意对国外遗产</tspan>
<tspan x="2084" dy="19">债权人的平等保护。随着对外开放，涉外继承</tspan>
<tspan x="2084" dy="19">案件也越来越多，对外国公民、法人负有债务</tspan>
<tspan x="2084" dy="19">的我国公民死亡后，不能借口保护我国继承人</tspan>
<tspan x="2084" dy="19">、受遗赠人的利益，忽视对国外遗产债权人的</tspan>
<tspan x="2084" dy="19">利益的保护，如对国外遗产债权人不 予通知</tspan>
<tspan x="2084" dy="19">等等。</tspan>
</text>
</g>

<g id="watermarks">
<text class="wm" style="opacity:0.26" x="1933" y="560" text-anchor="middle" transform="rotate(-32 1933 533)">树图 shutu.cn</text>
<text class="wm" x="1960" y="1507" text-anchor="middle" transform="rotate(-32 1960 1480)">树图 shutu.cn</text>
<text class="wm" x="1950" y="2527" text-anchor="middle" transform="rotate(-32 1950 2500)">树图 shutu.cn</text>
<text class="wm" x="640" y="2467" text-anchor="middle" transform="rotate(-32 640 2440)">树图 shutu.cn</text>
</g>
</g>
</svg>
